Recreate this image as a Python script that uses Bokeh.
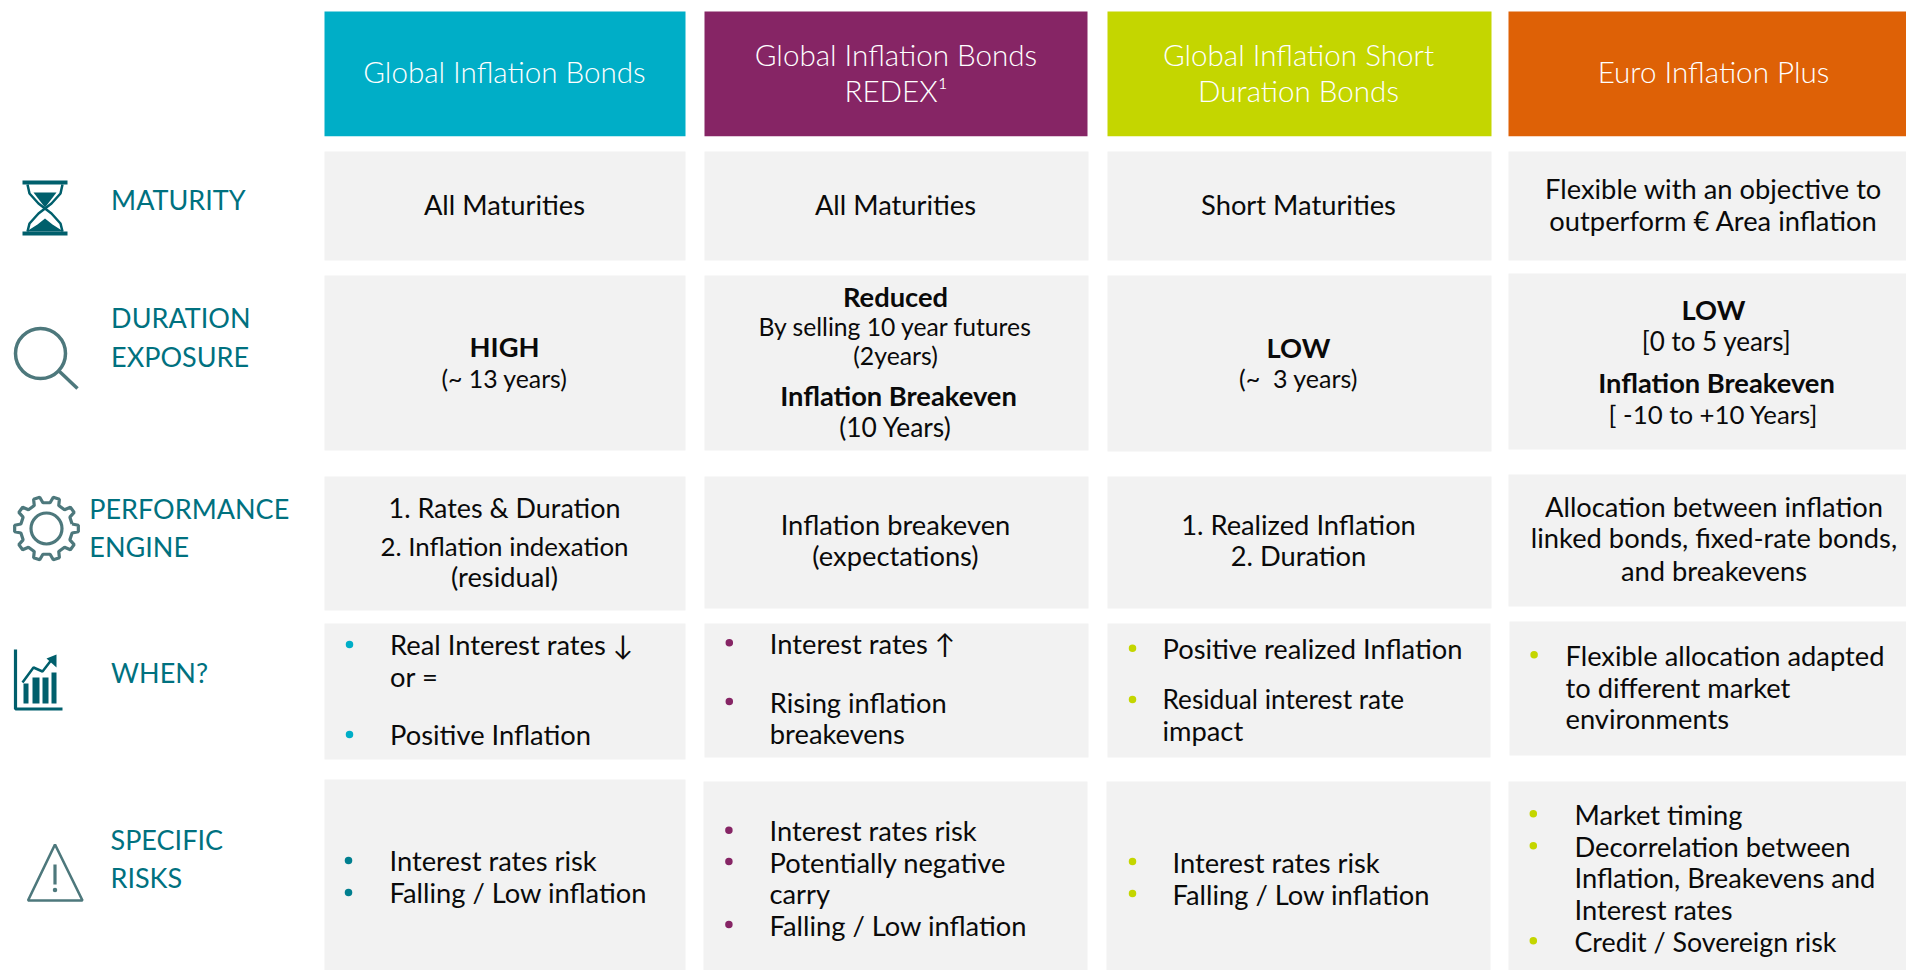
import math
from bokeh.plotting import figure
from bokeh.models import ColumnDataSource, Range1d
from bokeh.core.properties import value
from bokeh.embed import file_html
from bokeh.resources import INLINE

# ---------- content ----------
funds = ["Global Inflation Bonds", "Global Inflation Bonds", "REDEX\u00b9",
         "Global Inflation Short", "Duration Bonds", "Euro Inflation Plus"]
row_labels = ["MATURITY", "DURATION", "EXPOSURE", "PERFORMANCE", "ENGINE", "WHEN?", "SPECIFIC", "RISKS"]
maturity = ["All Maturities", "All Maturities", "Short Maturities",
            "Flexible with an objective to", "outperform \u20ac Area inflation"]
duration_bold = ["HIGH", "Reduced", "Inflation Breakeven", "LOW", "LOW", "Inflation Breakeven"]
duration_text = ["(~ 13 years)", "By selling 10 year futures", "(2years)", "(10 Years)",
                 "(~\u00a0\u00a03 years)", "[0 to 5 years]", "[ -10 to +10 Years]"]
engine = ["1. Rates & Duration", "2. Inflation indexation", "(residual)",
          "Inflation breakeven", "(expectations)",
          "1. Realized Inflation", "2. Duration",
          "Allocation between inflation", "linked bonds, fixed-rate bonds,", "and breakevens"]
when = ["Real Interest rates \u2193", "or =", "Positive Inflation",
        "Interest rates \u2191", "Rising inflation", "breakevens",
        "Positive realized Inflation", "Residual interest rate", "impact",
        "Flexible allocation adapted", "to different market", "environments"]
risks = ["Interest rates risk", "Falling / Low inflation",
         "Interest rates risk", "Potentially negative", "carry", "Falling / Low inflation",
         "Interest rates risk", "Falling / Low inflation",
         "Market timing", "Decorrelation between", "Inflation, Breakevens and", "Interest rates",
         "Credit / Sovereign risk"]

# ---------- layout (page pixels of the reference) ----------
W, H = 1906, 970
TEAL = "#00717f"; ICON = "#005f6c"; ICON2 = "#4d787c"; GREY = "#f2f2f2"; INK = "#0a0a0a"
CYAN = "#00aec7"; PURPLE = "#862565"; LIME = "#c4d600"; ORANGE = "#de6106"
SIZE = 27.3; HSIZE = 29.6; LSIZE = 27.0
FONT = "Lato"

p = figure(width=W, height=H, x_range=Range1d(0, W), y_range=Range1d(H, 0),
           toolbar_location=None, output_backend="svg", min_border=0)
p.axis.visible = False
p.grid.visible = False
p.outline_line_color = None
p.background_fill_color = "white"

# header blocks and grey cells: left, right, top, bottom
hdr_l = [324, 704, 1107, 1508]; hdr_r = [685, 1087, 1491, 1906]
hdr_t = [11, 11, 11, 11]; hdr_b = [135.7, 135.7, 135.7, 135.7]
p.quad(left=hdr_l, right=hdr_r, top=hdr_t, bottom=hdr_b,
       fill_color=[CYAN, PURPLE, LIME, ORANGE], line_color=None)

cell_l = [324]*5 + [704]*4 + [703] + [1107]*4 + [1106] + [1508]*3 + [1509, 1508]
cell_r = [685]*5 + [1088]*4 + [1087] + [1491]*3 + [1490, 1490] + [1906]*5
cell_t = [151, 275, 476, 623, 779, 151, 275, 476, 623, 781, 151, 275, 476, 623, 781, 151, 273, 474, 621, 781]
cell_b = [260, 450, 610, 759, 970, 260, 450, 608, 757, 970, 260, 451, 608, 757, 970, 260, 449, 606, 755, 970]
p.quad(left=cell_l, right=cell_r, top=cell_t, bottom=cell_b, fill_color=GREY, line_color=None)


def put(texts, xs, ys, color=INK, size=SIZE, align="center", style="normal", font=FONT, sizes=None):
    """Baselines are page pixels; sizes, if given, holds one pixel size per line."""
    line_sizes = sizes if sizes is not None else [size] * len(texts)
    src = ColumnDataSource(dict(x=xs, y=[y + 1 - 0.4 * s for y, s in zip(ys, line_sizes)], t=texts,
                                fs=[f"{s}px" for s in line_sizes]))
    p.text("x", "y", text="t", source=src, text_color=color, text_font=value(font),
           text_font_size={"field": "fs"}, text_align=align, text_baseline="alphabetic",
           text_font_style=style)


# headers
put(funds, [504, 895.5, 895.5, 1298, 1298, 1713], [82, 64.5, 101.3, 64.5, 101.3, 82],
    color="white", size=HSIZE, font="Lato Light")

# row labels
put(row_labels, [110.6, 110.6, 110.6, 88.8, 88.8, 110.6, 110, 110],
    [209, 326.7, 365.7, 517.7, 556, 682, 848.7, 886.7], color=TEAL, size=LSIZE, align="left")

put(maturity, [504, 895, 1298, 1713, 1713], [213.5, 213.5, 213.5, 197.7, 229.5])
put(duration_bold, [504, 895, 898, 1298, 1713, 1716], [356, 305.7, 405, 356.7, 319.3, 391.7], style="bold")
put(duration_text, [504, 895, 895, 895, 1298, 1716, 1713],
    [387, 335, 364, 435.7, 386.7, 350, 423],
    sizes=[24.8, 24.7, 24.8, 26.4, 25.0, 26.0, 25.8])
put(engine, [504]*3 + [895]*2 + [1298]*2 + [1713.5]*3,
    [516.7, 555, 585.7, 534, 565, 534.3, 565, 515.7, 547.3, 580.3],
    sizes=[26.9, 25.9, 27.3, 27.3, 27.3, 27.3, 27.3, 27.3, 27.3, 27.3])
put(when, [389.6]*3 + [769.3]*3 + [1162]*3 + [1565]*3,
    [654, 686, 744, 652.7, 711.7, 742.7, 657.7, 708, 739.5, 665, 696.7, 727.7], align="left",
    sizes=[27.3]*7 + [26.2] + [27.3]*4)
put(risks, [389, 389, 769, 769, 769, 769, 1172, 1172, 1574, 1574, 1574, 1574, 1574],
    [870, 902, 840, 871.7, 903, 935, 871.7, 904, 824, 855.7, 887.3, 919.3, 951], align="left",
    sizes=[27.3]*12 + [26.8])

# bullets
bul_x = [349, 349, 348, 348, 728.8, 728.8, 728.4, 728.4, 728.4, 1132, 1132, 1132, 1132,
         1533.6, 1532.8, 1532.8, 1532.8]
bul_y = [644, 734, 860, 892, 642.3, 701, 829.7, 861, 924, 647.7, 699, 861, 893, 654.3, 813.3, 845.3, 940.3]
bul_c = [CYAN, CYAN, "#007f8f", "#007f8f"] + [PURPLE]*5 + [LIME]*4 + [LIME]*4
p.scatter(bul_x, bul_y, size=7.5, color=bul_c, line_color=None)

# ---------- icons ----------
# hourglass
p.quad(left=[22, 22], right=[67, 67], top=[180, 231], bottom=[184, 235], fill_color=ICON, line_color=None)
p.patch([33, 56, 44.5], [192, 192, 207], fill_color=ICON, line_color=None)
p.patch([26, 63, 52, 44.5, 37], [231, 231, 224, 218, 224], fill_color=ICON, line_color=None)
p.multi_line([[27, 29, 38, 44.5, 51, 60, 62], [27, 29, 38, 44.5, 51, 60, 62]],
             [[184, 193, 203, 208, 213, 223, 231], [231, 223, 213, 208, 203, 193, 184]],
             line_color=ICON, line_width=2.5)

# magnifier
p.circle([40], [353], radius=25, fill_color=None, line_color=ICON2, line_width=3.5)
p.line([59, 77], [371, 388], line_color=ICON2, line_width=3.5)

# gear
gx, gy = [], []
TEETH = 10
for i in range(TEETH):
    a = 2 * math.pi * i / TEETH
    step = 2 * math.pi / TEETH
    for frac, r in [(-0.28, 26), (-0.16, 32), (0.16, 32), (0.28, 26)]:
        gx.append(46 + r * math.cos(a + frac * step))
        gy.append(528 + r * math.sin(a + frac * step))
gx.append(gx[0]); gy.append(gy[0])
p.line(gx, gy, line_color=ICON2, line_width=3.2)
p.circle([46], [528], radius=15.5, fill_color=None, line_color=ICON2, line_width=3.2)

# rising chart
p.line([15, 15, 62], [649, 708.5, 708.5], line_color=ICON, line_width=3.2)
p.quad(left=[23, 32, 42, 51], right=[28, 39, 48, 56], top=[683, 677, 677, 672], bottom=[703]*4,
       fill_color=ICON, line_color=None)
p.line([22, 33, 42, 52], [682, 667, 671, 658], line_color=ICON, line_width=2.5)
p.patch([46, 56, 56], [658, 654, 667], fill_color=ICON, line_color=None)

# warning triangle
p.patch([54.5, 27.5, 82], [844, 900, 900], fill_color=None, line_color=ICON2, line_width=2.6)
p.line([54.5, 54.5], [864, 884], line_color=ICON2, line_width=3.2)
p.scatter([54.5], [889.5], size=4.5, color=ICON2, line_color=None)

open("out.html", "w").write(file_html(p, INLINE))
